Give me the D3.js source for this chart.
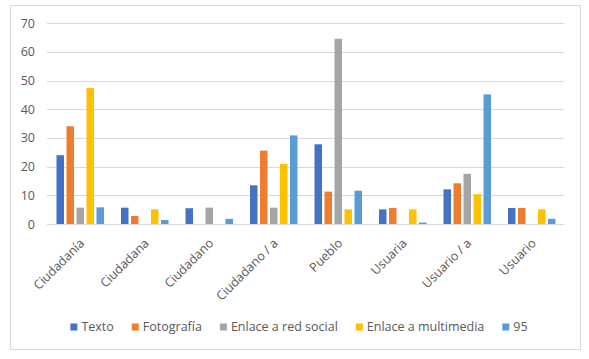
<!DOCTYPE html>
<html>
<head>
<meta charset="utf-8">
<script src="https://cdn.jsdelivr.net/npm/d3@7"></script>
<style>
  html, body { margin: 0; padding: 0; background: #fff; }
  svg { display: block; font-family: "Open Sans", sans-serif; }
</style>
</head>
<body>
<svg id="chart" width="589" height="359"></svg>
<script>
const categories = ["Ciudadanía", "Ciudadana", "Ciudadano", "Ciudadano / a", "Pueblo", "Usuaria", "Usuario / a", "Usuario"];
const seriesNames = ["Texto", "Fotografía", "Enlace a red social", "Enlace a multimedia", "95"];
const seriesColors = ["#4472C4", "#ED7D31", "#A5A5A5", "#FFC000", "#5B9BD5"];
const texto       = [24, 5.7, 5.5, 13.5, 27.8, 5.1, 12.1, 5.6];
const fotografia  = [34.1, 2.8, 0, 25.6, 11.3, 5.6, 14.2, 5.6];
const redSocial   = [5.7, 0, 5.7, 5.7, 64.6, 0, 17.5, 0];
const multimedia  = [47.4, 5.1, 0, 20.9, 5.1, 5.1, 10.4, 5.1];
const s95         = [5.8, 1.4, 1.8, 30.9, 11.6, 0.5, 45.2, 1.8];
const yTicks = [0, 10, 20, 30, 40, 50, 60, 70];

const seriesValues = [texto, fotografia, redSocial, multimedia, s95];

const svg = d3.select("#chart");
const textColor = "#595959";
const fontSize = 12.5;

// chart border
svg.append("rect").attr("x", 10.5).attr("y", 5.5).attr("width", 570).attr("height", 344)
  .attr("fill", "#fff").attr("stroke", "#d9d9d9").attr("stroke-width", 1);

const x0 = d3.scaleBand().domain(categories).range([48, 564]).paddingInner(0).paddingOuter(0);
const x1 = d3.scaleBand().domain(seriesNames).range([0, x0.bandwidth()]).paddingInner(0.25).paddingOuter(0.85);
const y = d3.scaleLinear().domain([0, 70]).range([224, 23.3]);

// gridlines
svg.append("g").selectAll("line").data(yTicks).join("line")
  .attr("x1", 47).attr("x2", 564)
  .attr("y1", d => Math.round(y(d)) + 0.5).attr("y2", d => Math.round(y(d)) + 0.5)
  .attr("stroke", "#d9d9d9").attr("stroke-width", 1);

// y axis labels
const yAxis = d3.axisLeft(y).tickValues(yTicks).tickSize(0).tickPadding(0);
const yg = svg.append("g").attr("transform", "translate(35,0)").call(yAxis);
yg.select(".domain").remove();
yg.selectAll("text").attr("fill", textColor).attr("font-size", fontSize)
  .attr("font-family", "'Open Sans', sans-serif");

// bars
const groups = svg.append("g").selectAll("g").data(categories).join("g")
  .attr("transform", d => `translate(${x0(d)},0)`);
groups.selectAll("rect")
  .data((c, ci) => seriesNames.map((s, si) => ({ s, si, v: seriesValues[si][ci] })))
  .join("rect")
  .attr("x", d => x1(d.s))
  .attr("width", x1.bandwidth())
  .attr("y", d => y(d.v))
  .attr("height", d => y(0) - y(d.v))
  .attr("fill", d => seriesColors[d.si]);

// x axis labels
const xg = svg.append("g");
xg.selectAll("text").data(categories).join("text")
  .attr("transform", d => `translate(${x0(d) + x0.bandwidth() / 2 + 5},${244}) rotate(-45)`)
  .attr("text-anchor", "end")
  .attr("fill", textColor).attr("font-size", fontSize)
  .text(d => d);

// legend
const legend = svg.append("g");
const items = legend.selectAll("g").data(seriesNames).join("g");
items.append("rect").attr("width", 7).attr("height", 7).attr("y", -3.5)
  .attr("fill", (d, i) => seriesColors[i]);
items.append("text").attr("x", 11).attr("dy", "0.35em")
  .attr("fill", textColor).attr("font-size", fontSize).text(d => d);
let widths = [];
items.each(function () { widths.push(11 + this.querySelector("text").getComputedTextLength()); });
const gap = 18;
const total = d3.sum(widths) + gap * (widths.length - 1);
let cx = 299 - total / 2;
items.attr("transform", (d, i) => {
  const t = `translate(${cx},${327})`;
  cx += widths[i] + gap;
  return t;
});
</script>
</body>
</html>
